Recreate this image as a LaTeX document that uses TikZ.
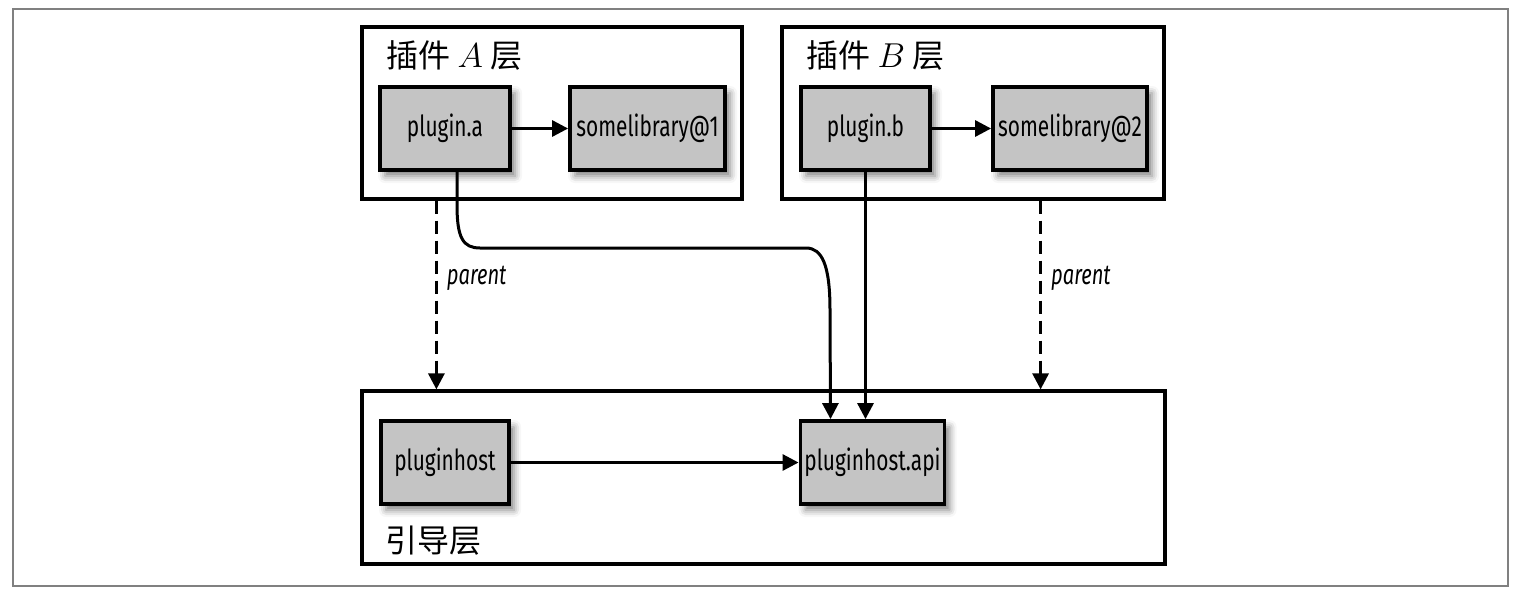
\documentclass[tikz,border=0pt]{standalone}
\usepackage{fontspec}
\newfontfamily\boxfont[FakeStretch=0.72]{Fira Sans}
\newfontfamily\cjkfont{Noto Sans CJK SC}
\usetikzlibrary{arrows.meta,shadows.blur}
\definecolor{boxgray}{RGB}{196,196,196}

\begin{document}
\begin{tikzpicture}[x=0.5pt,y=-0.5pt,
  layer/.style={draw,line width=1.6pt,minimum height=86pt,inner sep=0pt},
  module/.style={draw,fill=boxgray,line width=1.9pt,minimum height=41.5pt,inner sep=2pt,
    font=\boxfont\fontsize{14.5}{16}\selectfont,
    blur shadow={shadow xshift=2.5pt,shadow yshift=-3pt,shadow blur radius=3.5pt,shadow opacity=50}},
  title/.style={anchor=west,inner sep=0pt,font=\cjkfont\fontsize{16}{18}\selectfont},
  link/.style={line width=1.5pt,-{Triangle[length=8pt,width=8pt]}},
  parentlink/.style={link,dash pattern=on 6.5pt off 3.5pt},
  note/.style={anchor=west,inner sep=4.5pt,font=\boxfont\itshape\fontsize{14}{16}\selectfont}
  ]
  \useasboundingbox (0,0) rectangle (1521,595);
  \draw[gray,line width=0.8pt] (13,9) rectangle (1508,586);

  % layers
  \node[layer,minimum width=190pt] (layerA) at (552,113) {};
  \node[layer,minimum width=191pt] (layerB) at (973,113) {};
  \node[layer,minimum width=401.5pt,minimum height=86.5pt] (boot) at (763.5,477.5) {};
  \node[title] (titleA) at (386,55) {插件 $A$ 层};
  \node[title] (titleB) at (806,55) {插件 $B$ 层};
  \node[title] (titleboot) at (385,541) {引导层};

  % modules
  \node[module,minimum width=65pt] (plugina) at (445,128.5) {plugin.a};
  \node[module,minimum width=77.5pt] (somelib1) at (647.5,128.5) {somelibrary@1};
  \node[module,minimum width=64.5pt] (pluginb) at (865.5,128.5) {plugin.b};
  \node[module,minimum width=77pt] (somelib2) at (1070,128.5) {somelibrary@2};
  \node[module,minimum width=64pt] (host) at (445,462.5) {pluginhost};
  \node[module,minimum width=71.5pt] (api) at (872.5,462.5) {pluginhost.api};

  \draw[link] (plugina) -- (somelib1);
  \draw[link] (pluginb) -- (somelib2);
  \draw[link] (host) -- (api);
  \draw[link] (pluginb.south) -- (pluginb.south |- api.north);
  \draw[link] ([xshift=6pt]plugina.south) -- (457,205)
    .. controls (457,238) and (463,248) .. (480,248) -- (806,248)
    .. controls (822,248) and (830,265) .. (830,310) -- ([xshift=-21pt]api.north);

  % parent
  \draw[parentlink] ([xshift=38pt]layerA.south west) -- node[note,pos=0.41] {parent}
    ([xshift=38pt]layerA.south west |- boot.north);
  \draw[parentlink] ([xshift=-62.5pt]layerB.south east) -- node[note,pos=0.41] {parent}
    ([xshift=-62.5pt]layerB.south east |- boot.north);
\end{tikzpicture}
\end{document}
